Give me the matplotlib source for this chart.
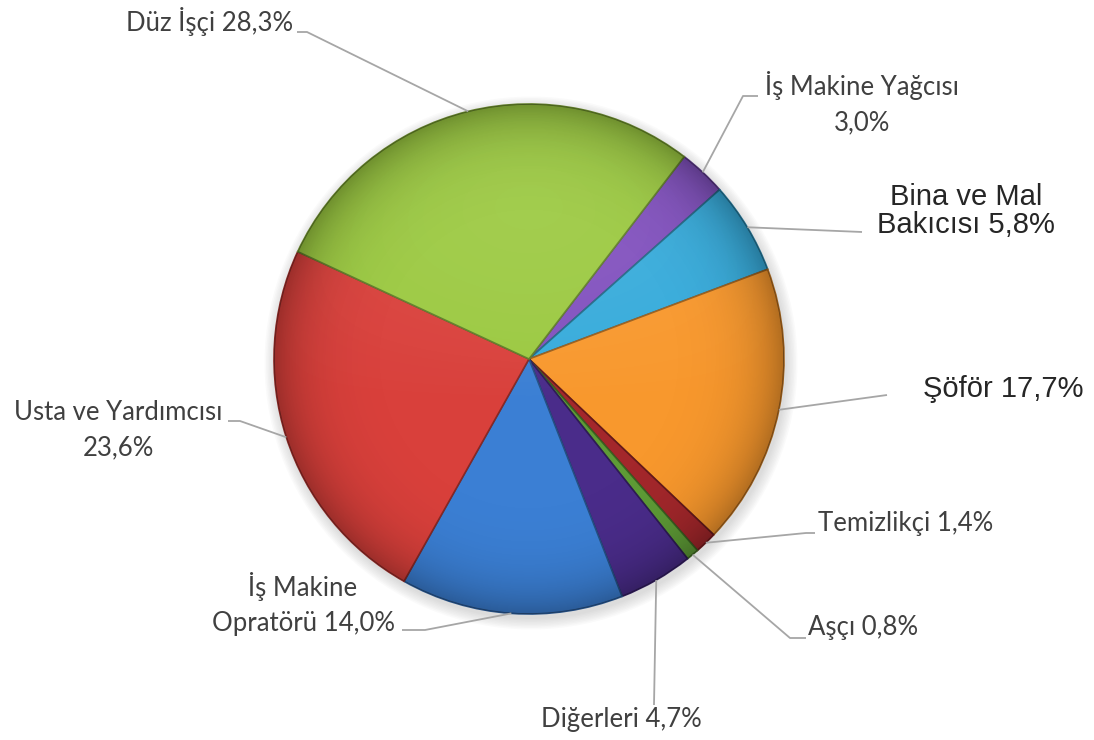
import numpy as np
import matplotlib.pyplot as plt
import matplotlib.colors as mcolors
from matplotlib.patches import Circle

# slices in clockwise order, starting at the green / purple boundary
labels = ["İş Makine Yağcısı\n3,0%", "Bina ve Mal\nBakıcısı 5,8%", "Şöför 17,7%",
          "Temizlikçi 1,4%", "Aşçı 0,8%", "Diğerleri 4,7%",
          "İş Makine\nOpratörü 14,0%", "Usta ve Yardımcısı\n23,6%", "Düz İşçi 28,3%"]
shares = [3.0, 5.8, 17.7, 1.4, 0.8, 4.7, 14.0, 23.6, 28.3]
colors = ["#8150BE", "#36ABDB", "#F8982D", "#A3272B", "#5E9B36",
          "#4A2C8A", "#3B7FD4", "#D9403B", "#9BC940"]

# figure is laid out in pixels (image coords, y pointing down)
W, H = 1094, 740
cx, cy, R = 529, 359, 255
start = 37.5  # degrees clockwise from 12 o'clock

def px(x, y):
    return x, H - y

# label layout: text position, alignment, font, leader points (label side)
calibri = dict(family="Lato", size=18.5, color="#404040")
arial = dict(family="Liberation Sans", size=21, color="#262626")
layout = [
    dict(xy=(862, 103), ha="center", font=calibri, ls=1.5, pts=[(758, 96), (743, 96)]),
    dict(xy=(966, 211), ha="center", font=arial, ls=1.0, pts=[(862, 232)]),
    dict(xy=(923, 389), ha="left", font=arial, ls=1.0, pts=[(887, 395)]),
    dict(xy=(818, 524), ha="left", font=calibri, ls=1.0, pts=[(815, 533), (806, 533)]),
    dict(xy=(808, 628), ha="left", font=calibri, ls=1.0, pts=[(806, 638), (790, 638)]),
    dict(xy=(621, 720), ha="center", font=calibri, ls=1.0, pts=[(654, 705)]),
    dict(xy=(303, 604), ha="center", font=calibri, ls=1.5, pts=[(402, 630), (425, 630)]),
    dict(xy=(118, 430), ha="center", font=calibri, ls=1.5, pts=[(228, 421), (240, 421)]),
    dict(xy=(210, 22), ha="center", font=calibri, ls=1.0, pts=[(297, 32), (307, 32)]),
]

fig = plt.figure(figsize=(W / 100, H / 100), dpi=100)
ax = fig.add_axes([0, 0, 1, 1])

# soft shadow
for k in range(8):
    ax.add_patch(Circle(px(cx + 2, cy + 4), R + 1 + k * 1.5, color="#808080",
                        alpha=0.035, lw=0, zorder=0))

edge = [tuple(np.array(mcolors.to_rgb(c)) * 0.62) for c in colors]
wedges, _ = ax.pie(shares, colors=colors, startangle=90 - start, counterclock=False,
                   center=px(cx, cy), radius=R,
                   wedgeprops=dict(linewidth=1.2, zorder=2))
for w, e in zip(wedges, edge):
    w.set_edgecolor(e)

# shading: light at the top, darker at the rim
n = 400
gx, gy = np.meshgrid(np.linspace(-1, 1, n), np.linspace(-1, 1, n))
rr = np.sqrt(gx ** 2 + gy ** 2)
ext = (cx - R, cx + R, H - cy - R, H - cy + R)
hi = np.zeros((n, n, 4))
hi[..., :3] = 1
hi[..., 3] = 0.18 * np.clip((gy + 0.2) / 1.2, 0, 1) * np.clip(1 - rr, 0, 1) ** 0.5
img = ax.imshow(hi, extent=ext, origin="lower", zorder=3, interpolation="bilinear")
img.set_clip_path(Circle(px(cx, cy), R, transform=ax.transData))
dk = np.zeros((n, n, 4))
dk[..., 3] = 0.28 * np.clip(rr, 0, 1) ** 8
img2 = ax.imshow(dk, extent=ext, origin="lower", zorder=3, interpolation="bilinear")
img2.set_clip_path(Circle(px(cx, cy), R, transform=ax.transData))

# labels and leader lines
for w, lab, lay in zip(wedges, labels, layout):
    mid = np.deg2rad((w.theta1 + w.theta2) / 2)
    ax_x = w.center[0] + w.r * np.cos(mid)
    ax_y = w.center[1] + w.r * np.sin(mid)
    pts = [px(*p) for p in lay["pts"]]
    xs = [p[0] for p in pts] + [ax_x]
    ys = [p[1] for p in pts] + [ax_y]
    ax.plot(xs, ys, color="#a6a6a6", lw=1.3, zorder=4, solid_capstyle="butt")
    tx, ty = px(*lay["xy"])
    ax.text(tx, ty, lab, ha=lay["ha"], va="center", multialignment="center",
            linespacing=lay["ls"], zorder=5, **lay["font"])

ax.set_xlim(0, W)
ax.set_ylim(0, H)
ax.set_aspect("auto")
ax.axis("off")
fig.savefig("out.png", dpi=100)
